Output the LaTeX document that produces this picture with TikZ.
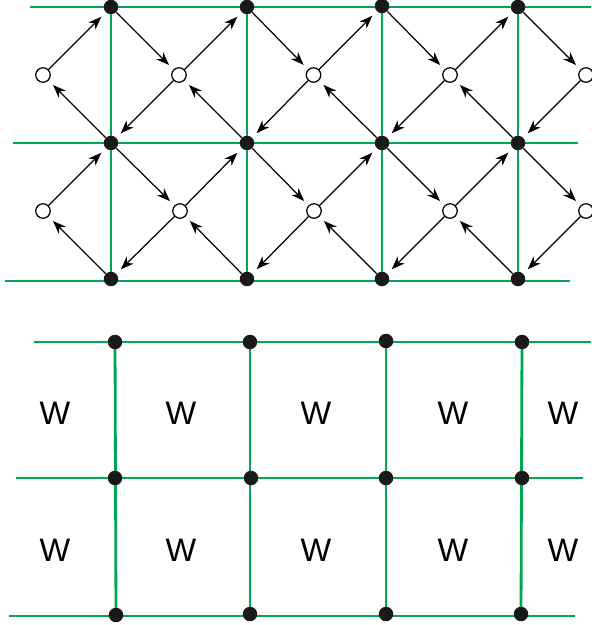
\documentclass[tikz,border=0pt]{standalone}
\usepackage{fontspec}
\setmainfont{Liberation Sans}
\usepackage{tikz}
\usetikzlibrary{arrows.meta,backgrounds}
\definecolor{latgreen}{RGB}{0,166,81}

\begin{document}
\begin{tikzpicture}[
    greenline/.style={draw=latgreen, line width=1.6pt},
    vertex/.style={circle, fill=black!90, minimum size=0.29cm, inner sep=0pt},
    site/.style={circle, draw=black, fill=white, line width=0.7pt, minimum size=0.29cm, inner sep=0pt},
    flow/.style={-{Stealth[length=7.5pt,width=5.6pt,inset=2.3pt]}, line width=0.7pt, shorten >=3.5pt},
    wlabel/.style={font=\fontsize{18.5}{21}\selectfont}
    ]
    \useasboundingbox (0,0) rectangle (11.82,-12.5);
    %reticolo superiore: nodi pieni
    \node[vertex] (t1) at (2.22,-0.14) {};
    \node[vertex] (t2) at (4.94,-0.14) {};
    \node[vertex] (t3) at (7.64,-0.12) {};
    \node[vertex] (t4) at (10.36,-0.14) {};
    \node[vertex] (m1) at (2.22,-2.86) {};
    \node[vertex] (m2) at (4.94,-2.86) {};
    \node[vertex] (m3) at (7.64,-2.86) {};
    \node[vertex] (m4) at (10.36,-2.86) {};
    \node[vertex] (b1) at (2.22,-5.58) {};
    \node[vertex] (b2) at (4.94,-5.58) {};
    \node[vertex] (b3) at (7.64,-5.58) {};
    \node[vertex] (b4) at (10.36,-5.58) {};
    %nodi vuoti
    \node[site] (u0) at (0.86,-1.5) {};
    \node[site] (u1) at (3.58,-1.5) {};
    \node[site] (u2) at (6.27,-1.5) {};
    \node[site] (u3) at (9.0,-1.5) {};
    \node[site] (u4) at (11.72,-1.5) {};
    \node[site] (l0) at (0.86,-4.22) {};
    \node[site] (l1) at (3.6,-4.22) {};
    \node[site] (l2) at (6.28,-4.22) {};
    \node[site] (l3) at (9.0,-4.22) {};
    \node[site] (l4) at (11.72,-4.22) {};
    %estremi delle righe
    \coordinate (tl) at (0.6,-0.14);
    \coordinate (tr) at (11.82,-0.14);
    \coordinate (ml) at (0.26,-2.86);
    \coordinate (mr) at (11.56,-2.86);
    \coordinate (bl) at (0.1,-5.62);
    \coordinate (br) at (11.4,-5.62);
    %righe verdi
    \begin{scope}[on background layer]
        \draw[greenline] (tl) -- (tr);
        \draw[greenline] (ml) -- (mr);
        \draw[greenline] (bl) -- (br);
        \draw[greenline] (t1.center) -- (b1.center);
        \draw[greenline] (t2.center) -- (b2.center);
        \draw[greenline] (t3.center) -- (b3.center);
        \draw[greenline] (t4.center) -- (b4.center);
    \end{scope}
    %frecce riga alta
    \draw[flow] (u0) -- (t1);
    \draw[flow] (t1) -- (u1);
    \draw[flow] (u1) -- (t2);
    \draw[flow] (t2) -- (u2);
    \draw[flow] (u2) -- (t3);
    \draw[flow] (t3) -- (u3);
    \draw[flow] (u3) -- (t4);
    \draw[flow] (t4) -- (u4);
    %frecce riga centrale
    \draw[flow] (m1) -- (u0);
    \draw[flow] (u1) -- (m1);
    \draw[flow] (l0) -- (m1);
    \draw[flow] (m1) -- (l1);
    \draw[flow] (m2) -- (u1);
    \draw[flow] (u2) -- (m2);
    \draw[flow] (l1) -- (m2);
    \draw[flow] (m2) -- (l2);
    \draw[flow] (m3) -- (u2);
    \draw[flow] (u3) -- (m3);
    \draw[flow] (l2) -- (m3);
    \draw[flow] (m3) -- (l3);
    \draw[flow] (m4) -- (u3);
    \draw[flow] (u4) -- (m4);
    \draw[flow] (l3) -- (m4);
    \draw[flow] (m4) -- (l4);
    %frecce riga bassa
    \draw[flow] (b1) -- (l0);
    \draw[flow] (l1) -- (b1);
    \draw[flow] (b2) -- (l1);
    \draw[flow] (l2) -- (b2);
    \draw[flow] (b3) -- (l2);
    \draw[flow] (l3) -- (b3);
    \draw[flow] (b4) -- (l3);
    \draw[flow] (l4) -- (b4);
    %reticolo inferiore
    \node[vertex] (p1) at (2.3,-6.84) {};
    \node[vertex] (p2) at (5.0,-6.84) {};
    \node[vertex] (p3) at (7.72,-6.82) {};
    \node[vertex] (p4) at (10.44,-6.84) {};
    \node[vertex] (q1) at (2.3,-9.56) {};
    \node[vertex] (q2) at (5.02,-9.56) {};
    \node[vertex] (q3) at (7.72,-9.56) {};
    \node[vertex] (q4) at (10.44,-9.56) {};
    \node[vertex] (r1) at (2.32,-12.3) {};
    \node[vertex] (r2) at (5.0,-12.28) {};
    \node[vertex] (r3) at (7.72,-12.28) {};
    \node[vertex] (r4) at (10.42,-12.28) {};
    \coordinate (pl) at (0.68,-6.84);
    \coordinate (pr) at (11.82,-6.84);
    \coordinate (ql) at (0.32,-9.56);
    \coordinate (qr) at (11.66,-9.56);
    \coordinate (rl) at (0.18,-12.32);
    \coordinate (rr) at (11.5,-12.32);
    \begin{scope}[on background layer]
        \draw[greenline] (pl) -- (pr);
        \draw[greenline] (ql) -- (qr);
        \draw[greenline] (rl) -- (rr);
        \draw[greenline] (p1.center) -- (r1.center);
        \draw[greenline] (p2.center) -- (r2.center);
        \draw[greenline] (p3.center) -- (r3.center);
        \draw[greenline] (p4.center) -- (r4.center);
    \end{scope}
    %etichette W
    \node[wlabel] (w1) at (1.1,-8.26) {W};
    \node[wlabel] (w2) at (3.62,-8.26) {W};
    \node[wlabel] (w3) at (6.32,-8.26) {W};
    \node[wlabel] (w4) at (9.06,-8.26) {W};
    \node[wlabel] (w5) at (11.26,-8.26) {W};
    \node[wlabel] (w6) at (1.1,-11.0) {W};
    \node[wlabel] (w7) at (3.62,-11.0) {W};
    \node[wlabel] (w8) at (6.32,-11.0) {W};
    \node[wlabel] (w9) at (9.06,-11.0) {W};
    \node[wlabel] (w10) at (11.26,-11.0) {W};
\end{tikzpicture}
\end{document}
